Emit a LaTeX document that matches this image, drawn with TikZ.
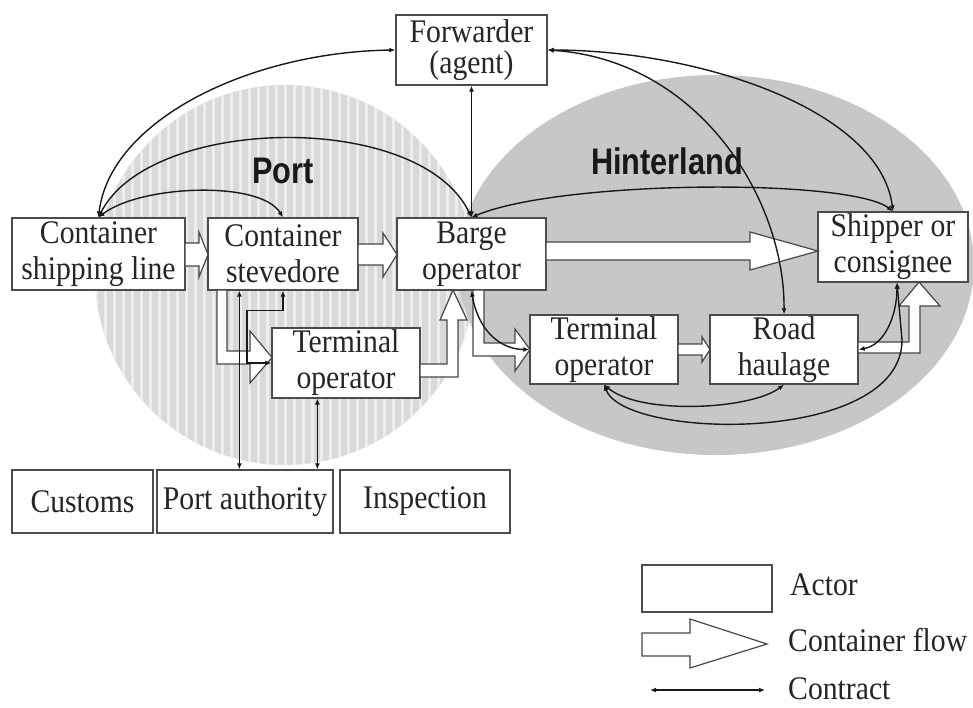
\documentclass[tikz,border=0pt]{standalone}
\usepackage{fontspec}
\setmainfont{Liberation Serif}[FakeStretch=0.9]
\newfontfamily\lblfont{Liberation Sans}[FakeStretch=0.83]
\usetikzlibrary{arrows.meta,calc}
\begin{document}
\begin{tikzpicture}[x=1pt,y=-1pt,
  actor/.style={draw=black!70, line width=1.3pt, fill=white, inner sep=0pt, align=center,
    text=black!85, font=\fontsize{33}{36}\selectfont},
  flow/.style={draw=black!72, line width=1.2pt, fill=white, line join=miter},
  contract/.style={draw=black!90, line width=1.4pt, {Latex[length=6pt,width=5pt]}-{Latex[length=6pt,width=5pt]}},
  region/.style={font={\lblfont\bfseries\fontsize{37}{40}\selectfont}, text=black!90},
  legtext/.style={anchor=west, inner sep=0pt, text=black!85, font=\fontsize{33}{36}\selectfont}]
\useasboundingbox (0,0) rectangle (973,707);
\fill[white] (0,0) rectangle (973,707);

% Port region (striped circle)
\begin{scope}
  \clip (285,275) circle (190);
  \fill[black!15] (80,70) rectangle (490,480);
  \foreach \x in {96,105,...,480} \draw[black!7, line width=3pt] (\x,70) -- (\x,480);
\end{scope}
% Hinterland region
\fill[black!22] (716,265) ellipse (258 and 190);

\node[region] (portlbl) at (283,171) {Port};
\node[region] (hintlbl) at (667,161) {Hinterland};

% Actors
\node[actor, minimum width=151pt, minimum height=70pt, font=\fontsize{33}{31}\selectfont] (fwd) at (471.5,50) {Forwarder\\(agent)};
\node[actor, minimum width=173pt, minimum height=72pt] (csl) at (98.5,254) {Container\\shipping line};
\node[actor, minimum width=150pt, minimum height=72pt] (cst) at (283,254) {Container\\stevedore};
\node[actor, minimum width=149pt, minimum height=72pt] (barge) at (471.5,254) {Barge\\operator};
\node[actor, minimum width=148pt, minimum height=70pt] (tport) at (346,363) {Terminal\\operator};
\node[actor, minimum width=148pt, minimum height=69pt] (thint) at (604,349.5) {Terminal\\operator};
\node[actor, minimum width=148pt, minimum height=69pt] (road) at (784,349.5) {Road\\haulage};
\node[actor, minimum width=150pt, minimum height=70pt] (ship) at (893,247) {Shipper or\\consignee};
\node[actor, minimum width=141pt, minimum height=63pt] (customs) at (82.5,501.5) {Customs};
\node[actor, minimum width=176pt, minimum height=63pt] (pauth) at (245,501.5) {Port authority};
\node[actor, minimum width=170pt, minimum height=63pt] (insp) at (425,501.5) {Inspection};

% Container flows
\draw[flow] (185,243) -- (199,243) -- (199,232) -- (208,254.5) -- (199,277) -- (199,266) -- (185,266) -- cycle;
\draw[flow] (358,244) -- (383,244) -- (383,233) -- (397,254.5) -- (383,277) -- (383,265) -- (358,265) -- cycle;
\draw[flow] (546,242) -- (750,242) -- (750,232) -- (818,251) -- (750,270) -- (750,260) -- (546,260) -- cycle;
\draw[flow] (678,344) -- (702,344) -- (702,337) -- (710,349.5) -- (702,362) -- (702,355) -- (678,355) -- cycle;
\draw[flow] (473,290) -- (473,356) -- (515,356) -- (515,371) -- (530,349.5) -- (515,329) -- (515,343) -- (484,343) -- (484,290) -- cycle;
\draw[flow] (217,290) -- (217,364) -- (250,364) -- (250,383) -- (272,357.5) -- (250,331) -- (250,351) -- (227,351) -- (227,290) -- cycle;
\draw[flow] (420,364) -- (447,364) -- (447,320) -- (440,320) -- (453,290) -- (467,320) -- (458,320) -- (458,377) -- (420,377) -- cycle;
\draw[flow] (858,342) -- (909,342) -- (909,306) -- (899,306) -- (919,282) -- (940,306) -- (920,306) -- (920,353) -- (858,353) -- cycle;

% Contracts
\draw[contract] (csl.north) .. controls (110,120) and (250,52) .. (fwd.west);
\draw[contract] (csl.north) .. controls (150,115) and (420,110) .. (barge.north);
\draw[contract] (csl.north) .. controls (140,185) and (260,180) .. (cst.north);
\draw[contract] (barge.north) -- (fwd.south);
\draw[contract] (barge.north) .. controls (560,180) and (850,178) .. (ship.north);
\draw[contract] (fwd.east) .. controls (700,50) and (880,110) .. (ship.north);
\draw[contract] (fwd.east) .. controls (700,60) and (785,200) .. (road.north);
\draw[contract] (barge.south) .. controls (478,330) and (500,349.5) .. (thint.west);
\coordinate (cs1) at ($(cst.south west)+(32,0)$);
\draw[contract] (cs1) -- (cs1 |- pauth.north);
\draw[contract] (cst.south) -- ++(0,20) -| (247,363) -- (tport.west);
\coordinate (tp1) at ($(tport.south west)+(46,0)$);
\draw[contract] (tp1) -- (tp1 |- pauth.north);
\draw[contract] (thint.south) .. controls (640,415) and (750,410) .. (road.south);
\coordinate (shb) at ($(ship.south)+(4,0)$);
\draw[contract] (thint.south) .. controls (625,440) and (902,445) .. (902,340) -- (shb);
\draw[contract] (road.east) .. controls (885,345) and (897,315) .. (shb);

% Legend
\node[actor, minimum width=130pt, minimum height=47pt] (legact) at (707,588.5) {};
\node[legtext] (legacttxt) at (790,585) {Actor};
\draw[flow] (642,633) -- (690,633) -- (690,619) -- (767,644) -- (690,668) -- (690,656) -- (642,656) -- cycle;
\node[legtext] (legflowtxt) at (788,640) {Container flow};
\coordinate (lc1) at (650,690);
\coordinate (lc2) at (765,690);
\draw[contract] (lc1) -- (lc2);
\node[legtext] (legcontxt) at (788,689) {Contract};
\end{tikzpicture}
\end{document}
